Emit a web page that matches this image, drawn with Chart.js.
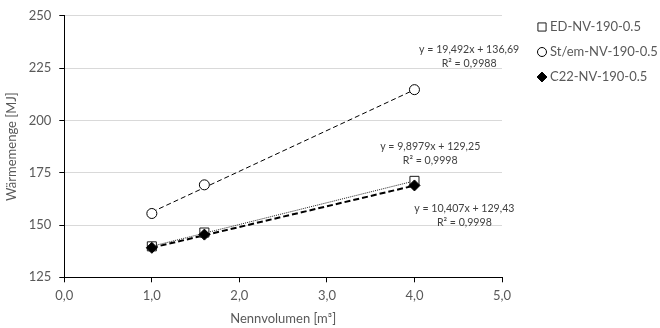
<!DOCTYPE html>
<html>
<head>
<meta charset="utf-8">
<script src="https://cdn.jsdelivr.net/npm/chart.js@4/dist/chart.umd.min.js"></script>
<style>
  html, body { margin: 0; padding: 0; background: #fff; }
  #wrap { width: 660px; height: 328px; position: relative; }
</style>
</head>
<body>
<div id="wrap"><canvas id="c" width="660" height="328"></canvas></div>
<script>
// ---- data ----
const xValues = [1.0, 1.6, 4.0];
const edValues = [139.8, 146.4, 171.1];
const stemValues = [155.5, 169.2, 214.7];
const c22Values = [139.1, 145.4, 168.9];

const seriesNames = ['ED-NV-190-0.5', 'St/em-NV-190-0.5', 'C22-NV-190-0.5'];

// linear trendlines (slope, intercept) as printed in the chart
const trendSlopes = [10.407, 19.492, 9.8979];
const trendIntercepts = [129.43, 136.69, 129.25];
const trendRange = [1.0, 4.0];

// trendline labels
const trendEquations = ['y = 10,407x + 129,43', 'y = 19,492x + 136,69', 'y = 9,8979x + 129,25'];
const trendR2 = ['R² = 0,9998', 'R² = 0,9988', 'R² = 0,9998'];
const labelAnchorX = [4.57, 4.625, 4.18];
const labelAnchorY = [154.6, 230.5, 184.0];

const xTicks = [0, 1, 2, 3, 4, 5];
const yTicks = [125, 150, 175, 200, 225, 250];

const FONT = 'Lato, "Open Sans", sans-serif';
const TEXT = '#595959';

function pts(vals) { return xValues.map((x, i) => ({ x: x, y: vals[i] })); }
function trend(i) {
  return trendRange.map(x => ({ x: x, y: trendSlopes[i] * x + trendIntercepts[i] }));
}

const pointStyles = [
  { pointStyle: 'rect', radius: 6.4, bg: '#ffffff', border: '#1a1a1a' },
  { pointStyle: 'circle', radius: 5, bg: '#ffffff', border: '#000000' },
  { pointStyle: 'rectRot', radius: 5.5, bg: '#000000', border: '#000000' }
];
const trendStyles = [
  { color: '#222', width: 1, dash: [1, 1] },
  { color: '#000', width: 1, dash: [5, 3] },
  { color: '#000', width: 2, dash: [6, 3] }
];
const seriesValues = [edValues, stemValues, c22Values];
const drawOrder = [2, 1, 0];

const datasets = [];
seriesValues.forEach((vals, i) => {
  datasets.push({
    label: seriesNames[i] + ' trend',
    data: trend(i),
    showLine: true,
    pointRadius: 0,
    borderColor: trendStyles[i].color,
    borderWidth: trendStyles[i].width,
    borderDash: trendStyles[i].dash,
    fill: false,
    order: 10 + i
  });
});
seriesValues.forEach((vals, i) => {
  datasets.push({
    label: seriesNames[i],
    data: pts(vals),
    showLine: false,
    pointStyle: pointStyles[i].pointStyle,
    pointRadius: pointStyles[i].radius,
    pointHoverRadius: pointStyles[i].radius,
    pointBackgroundColor: pointStyles[i].bg,
    pointBorderColor: pointStyles[i].border,
    pointBorderWidth: 1,
    order: drawOrder[i]
  });
});

const overlay = {
  id: 'overlay',
  afterDraw(chart) {
    const ctx = chart.ctx;
    const xs = chart.scales.x, ys = chart.scales.y;
    ctx.save();
    // trendline labels
    ctx.font = '10.6px ' + FONT;
    ctx.fillStyle = '#404040';
    ctx.textAlign = 'center';
    ctx.textBaseline = 'middle';
    trendEquations.forEach((eq, i) => {
      const cx = xs.getPixelForValue(labelAnchorX[i]);
      const cy = ys.getPixelForValue(labelAnchorY[i]);
      ctx.fillText(eq, cx, cy - 7);
      ctx.fillText(trendR2[i], cx, cy + 7);
    });
    // legend
    const lx = chart.chartArea.right + 40;
    const ly0 = 27, dy = 25;
    ctx.font = '13px ' + FONT;
    ctx.textAlign = 'left';
    seriesNames.forEach((name, i) => {
      const y = ly0 + i * dy;
      const ps = pointStyles[i];
      ctx.fillStyle = ps.bg;
      ctx.strokeStyle = ps.border;
      ctx.lineWidth = 1;
      ctx.setLineDash([]);
      Chart.helpers.drawPoint(ctx, { pointStyle: ps.pointStyle, radius: ps.radius * 0.9, rotation: 0, borderWidth: 1 }, lx, y);
      ctx.fillStyle = TEXT;
      ctx.fillText(name, lx + 8, y);
    });
    ctx.restore();
  }
};

new Chart(document.getElementById('c'), {
  type: 'scatter',
  data: { datasets: datasets },
  plugins: [overlay],
  options: {
    responsive: false,
    animation: false,
    devicePixelRatio: 1,
    layout: { padding: { left: 0, right: 158, top: 13.7, bottom: 0 } },
    plugins: { legend: { display: false }, tooltip: { enabled: false } },
    scales: {
      x: {
        type: 'linear',
        min: 0, max: 5,
        afterFit(s) { s.height = 50.7; },
        afterBuildTicks(s) { s.ticks = xTicks.map(v => ({ value: v })); },
        ticks: {
          color: TEXT, font: { family: FONT, size: 13 }, padding: 6,
          callback: v => v.toFixed(1).replace('.', ',')
        },
        grid: { drawOnChartArea: false, drawTicks: true, tickLength: 5, tickColor: '#000' },
        border: { color: '#000', width: 1 },
        title: { display: true, text: 'Nennvolumen [m³]', color: TEXT, font: { family: FONT, size: 13 }, padding: { top: 0, bottom: 1 } }
      },
      y: {
        type: 'linear',
        min: 125, max: 250,
        afterFit(s) { s.width = 64.3; },
        afterBuildTicks(s) { s.ticks = yTicks.map(v => ({ value: v })); },
        ticks: { color: TEXT, font: { family: FONT, size: 13 }, padding: 8 },
        grid: { color: '#d9d9d9', lineWidth: 1, tickLength: 5, tickColor: '#000' },
        border: { color: '#000', width: 1 },
        title: { display: true, text: 'Wärmemenge [MJ]', color: TEXT, font: { family: FONT, size: 13 }, padding: { top: 4, bottom: 0 } }
      }
    }
  }
});
</script>
</body>
</html>
